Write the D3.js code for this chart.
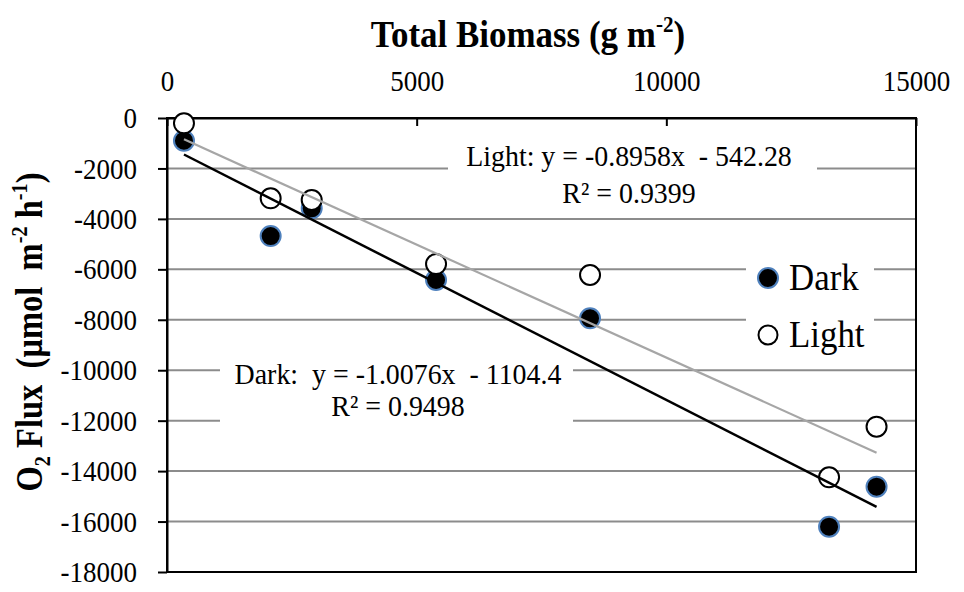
<!DOCTYPE html>
<html>
<head>
<meta charset="utf-8">
<script src="https://cdn.jsdelivr.net/npm/d3@7"></script>
<style>
  html, body { margin: 0; padding: 0; background: #fff; }
  svg { display: block; }
  text { font-family: "Liberation Serif", "Times New Roman", serif; fill: #000; }
</style>
</head>
<body>
<svg id="chart" width="964" height="592"></svg>
<script>
// Biomass (g m-2) and O2 flux (µmol m-2 h-1) per sampling site
const biomass   = [340, 2076, 2898, 5388, 8472, 13259, 14210];
const darkFlux  = [-900, -4679, -3581, -6423, -7943, -16205, -14619];
const lightFlux = [-210, -3184, -3251, -5789, -6225, -14247, -12240];

// Linear fits reported for each series
const seriesNames = ["Dark", "Light"];
const fitSlope     = [-1.0076, -0.8958];
const fitIntercept = [-1104.4, -542.28];
const fitR2        = ["0.9498", "0.9399"];

const xTicks = [0, 5000, 10000, 15000];
const yTicks = [0, -2000, -4000, -6000, -8000, -10000, -12000, -14000, -16000, -18000];

const svg = d3.select("#chart");
const plotL = 167, plotR = 916, plotT = 118, plotB = 572;

const x = d3.scaleLinear().domain([0, 15000]).range([plotL, plotR]);
const y = d3.scaleLinear().domain([0, -18000]).range([plotT, plotB]);

// narrow the glyphs horizontally, keeping each text anchored where it is
function condense(sel, sx) {
  sel.each(function () {
    const t = d3.select(this);
    const tx = +t.attr("x") || 0, ty = +t.attr("y") || 0;
    t.attr("x", null).attr("y", null)
     .attr("transform", `translate(${tx},${ty}) scale(${sx},1)`);
  });
}

// horizontal gridlines
svg.append("g")
  .selectAll("line")
  .data(yTicks.slice(1, -1))
  .join("line")
  .attr("x1", plotL).attr("x2", plotR)
  .attr("y1", d => y(d)).attr("y2", d => y(d))
  .attr("stroke", "#8c8c8c").attr("stroke-width", 2);

// white backgrounds behind the fit labels and the legend
const boxes = svg.append("g").attr("fill", "#fff");
boxes.append("rect").attr("x", 448).attr("y", 140).attr("width", 369).attr("height", 72);
boxes.append("rect").attr("x", 220).attr("y", 350).attr("width", 353).attr("height", 78);
boxes.append("rect").attr("x", 746).attr("y", 250).attr("width", 128).attr("height", 110);

// plot frame
svg.append("rect")
  .attr("x", plotL).attr("y", plotT)
  .attr("width", plotR - plotL).attr("height", plotB - plotT)
  .attr("fill", "none").attr("stroke", "#000").attr("stroke-width", 2);

// top x axis
const xAxis = svg.append("g")
  .attr("transform", `translate(0,${plotT})`)
  .call(d3.axisTop(x).tickValues(xTicks).tickFormat(d3.format("d"))
        .tickSizeInner(-8).tickSizeOuter(0).tickPadding(27));
xAxis.select(".domain").attr("stroke", "#000").attr("stroke-width", 2);
xAxis.selectAll(".tick line").attr("stroke", "#000").attr("stroke-width", 2);
xAxis.selectAll(".tick text").attr("font-size", 30).attr("font-family", "Liberation Serif")
  .call(condense, 0.9);

// left y axis
const yAxis = svg.append("g")
  .attr("transform", `translate(${plotL},0)`)
  .call(d3.axisLeft(y).tickValues(yTicks).tickFormat(d3.format("d"))
        .tickSizeInner(9).tickSizeOuter(0).tickPadding(21));
yAxis.select(".domain").attr("stroke", "#000").attr("stroke-width", 2);
yAxis.selectAll(".tick line").attr("stroke", "#000").attr("stroke-width", 2);
yAxis.selectAll(".tick text").attr("font-size", 30).attr("font-family", "Liberation Serif")
  .text(d => d < 0 ? "-" + Math.abs(d) : d)
  .call(condense, 0.9);

// data points: dark first, light drawn over
const darkPts = biomass.map((b, i) => ({ b, v: darkFlux[i] }));
const lightPts = biomass.map((b, i) => ({ b, v: lightFlux[i] }));

svg.append("g").selectAll("circle").data(darkPts).join("circle")
  .attr("cx", d => x(d.b)).attr("cy", d => y(d.v)).attr("r", 10)
  .attr("fill", "#000").attr("stroke", "#4f81bd").attr("stroke-width", 2);

svg.append("g").selectAll("circle").data(lightPts).join("circle")
  .attr("cx", d => x(d.b)).attr("cy", d => y(d.v)).attr("r", 10)
  .attr("fill", "#fff").attr("stroke", "#000").attr("stroke-width", 2);

// fitted lines over the data range
const xMin = d3.min(biomass), xMax = d3.max(biomass);
const fitColors = ["#000", "#a6a6a6"];
const fitWidths = [2.5, 2.2];
seriesNames.forEach((s, i) => {
  const f = v => fitSlope[i] * v + fitIntercept[i];
  svg.append("line")
    .attr("x1", x(xMin)).attr("y1", y(f(xMin)))
    .attr("x2", x(xMax)).attr("y2", y(f(xMax)))
    .attr("stroke", fitColors[i]).attr("stroke-width", fitWidths[i]);
});

// fit equation labels
function fitLabel(cx, y1, gap, i, spacer) {
  const g = svg.append("g").attr("font-size", 30).attr("text-anchor", "middle");
  const slope = fitSlope[i].toFixed(4);
  const icpt = Math.abs(fitIntercept[i]);
  g.append("text").attr("x", cx).attr("y", y1).attr("xml:space", "preserve")
    .text(`${seriesNames[i]}:${spacer}y = ${slope}x  - ${icpt}`)
    .call(condense, 0.93);
  g.append("text").attr("x", cx).attr("y", y1 + gap)
    .text(`R² = ${fitR2[i]}`)
    .call(condense, 0.93);
}
fitLabel(629, 166, 37, 1, " ");
fitLabel(398, 384, 32, 0, "  ");

// legend
const legend = svg.append("g");
legend.append("circle").attr("cx", 768).attr("cy", 278).attr("r", 10)
  .attr("fill", "#000").attr("stroke", "#4f81bd").attr("stroke-width", 2);
legend.append("text").attr("x", 789).attr("y", 290).attr("font-size", 37.5).text("Dark")
  .call(condense, 0.93);
legend.append("circle").attr("cx", 768).attr("cy", 335).attr("r", 9.5)
  .attr("fill", "#fff").attr("stroke", "#000").attr("stroke-width", 2);
legend.append("text").attr("x", 789).attr("y", 347).attr("font-size", 37.5).text("Light")
  .call(condense, 0.93);

// axis titles
const xTitle = svg.append("text")
  .attr("x", 528).attr("y", 47).attr("text-anchor", "middle")
  .attr("font-size", 38).attr("font-weight", "bold");
xTitle.append("tspan").text("Total Biomass (g m");
xTitle.append("tspan").attr("font-size", 23).attr("dy", -15).text("-2");
xTitle.append("tspan").attr("dy", 15).text(")");
xTitle.call(condense, 0.92);

const yTitle = svg.append("text")
  .attr("transform", "translate(42,332) rotate(-90) scale(0.88,1)")
  .attr("text-anchor", "middle")
  .attr("font-size", 37).attr("font-weight", "bold")
  .attr("xml:space", "preserve");
yTitle.append("tspan").text("O");
yTitle.append("tspan").attr("font-size", 23).attr("dy", 8).text("2");
yTitle.append("tspan").attr("dy", -8).text(" Flux  (μmol  m");
yTitle.append("tspan").attr("font-size", 23).attr("dy", -15).text("-2");
yTitle.append("tspan").attr("dy", 15).text(" h");
yTitle.append("tspan").attr("font-size", 23).attr("dy", -15).text("-1");
yTitle.append("tspan").attr("dy", 15).text(")");
</script>
</body>
</html>
